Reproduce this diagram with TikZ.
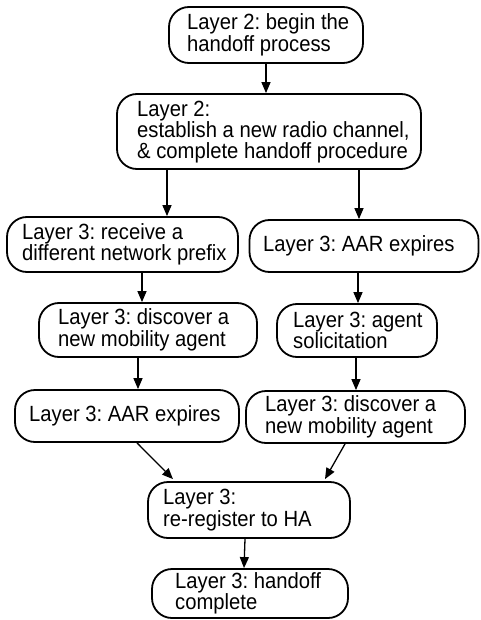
\documentclass[tikz,border=0pt]{standalone}
\usepackage{fontspec}
\newfontfamily\flowfont{Liberation Sans}[FakeStretch=0.92]
\usetikzlibrary{arrows.meta}

\tikzset{
  stepbox/.style={draw, line width=1.8pt, rounded corners=20pt, inner sep=0pt},
  steptext/.style={anchor=west, align=left, inner sep=0pt,
    font=\flowfont\frenchspacing\fontsize{22}{19}\selectfont},
  widetext/.style={steptext, font=\flowfont\frenchspacing\fontsize{22}{20.5}\selectfont},
  flow/.style={line width=1.3pt, -{Triangle[length=11pt,width=9pt]}},
}

\begin{document}
\begin{tikzpicture}[x=1pt, y=-1pt]
\useasboundingbox (0,0) rectangle (481,620);

% boxes
\node[stepbox, minimum width=194pt, minimum height=56pt] (A) at (266,35) {};
\node[stepbox, minimum width=304pt, minimum height=75pt] (B) at (269,131.5) {};
\node[stepbox, minimum width=231pt, minimum height=55pt] (C) at (122.5,244.5) {};
\node[stepbox, minimum width=229pt, minimum height=52pt] (D) at (364,246) {};
\node[stepbox, minimum width=218pt, minimum height=54pt] (E) at (148,330) {};
\node[stepbox, minimum width=160pt, minimum height=53pt] (F) at (357,330.5) {};
\node[stepbox, minimum width=224pt, minimum height=52pt] (G) at (127,416) {};
\node[stepbox, minimum width=219pt, minimum height=52pt] (H) at (355.5,417) {};
\node[stepbox, minimum width=202pt, minimum height=56pt] (I) at (249,510) {};
\node[stepbox, minimum width=196pt, minimum height=49pt] (J) at (250,593.5) {};

% labels
\node[steptext] (tA) at (187,35) {Layer 2: begin the\\handoff process};
\node[widetext] (tB) at (137,132) {Layer 2:\\establish a new radio channel,\\\& complete handoff procedure};
\node[steptext] (tC) at (22,244.5) {Layer 3: receive a\\different network prefix};
\node[steptext] (tD) at (263,246) {Layer 3: AAR expires};
\node[steptext] (tE) at (58,330) {Layer 3: discover a\\new mobility agent};
\node[steptext] (tF) at (293,330.5) {Layer 3: agent\\solicitation};
\node[steptext] (tG) at (29,416) {Layer 3: AAR expires};
\node[steptext] (tH) at (265,417) {Layer 3: discover a\\new mobility agent};
\node[steptext] (tI) at (163,510) {Layer 3:\\re-register to HA};
\node[steptext] (tJ) at (175,593.5) {Layer 3: handoff\\complete};

% connectors
\draw[flow] (A.south) -- (A.south |- B.north);
\draw[flow] ([xshift=-102pt]B.south) -- ([xshift=44.5pt]C.north);
\draw[flow] ([xshift=90pt]B.south) -- ([xshift=-5pt]D.north);
\draw[flow] ([xshift=19.5pt]C.south) -- ([xshift=-6pt]E.north);
\draw[flow] ([xshift=-6pt]D.south) -- ([xshift=1pt]F.north);
\draw[flow] ([xshift=-10pt]E.south) -- ([xshift=11pt]G.north);
\draw[flow] ([xshift=-1pt]F.south) -- ([xshift=0.5pt]H.north);
\draw[flow] ([xshift=10pt]G.south) -- ([xshift=-76pt,yshift=2pt]I.north);
\draw[flow] ([xshift=-10.5pt]H.south) -- ([xshift=76pt,yshift=2pt]I.north);
\draw[flow] ([xshift=-4pt]I.south) -- ([xshift=-6pt]J.north);
\end{tikzpicture}
\end{document}
